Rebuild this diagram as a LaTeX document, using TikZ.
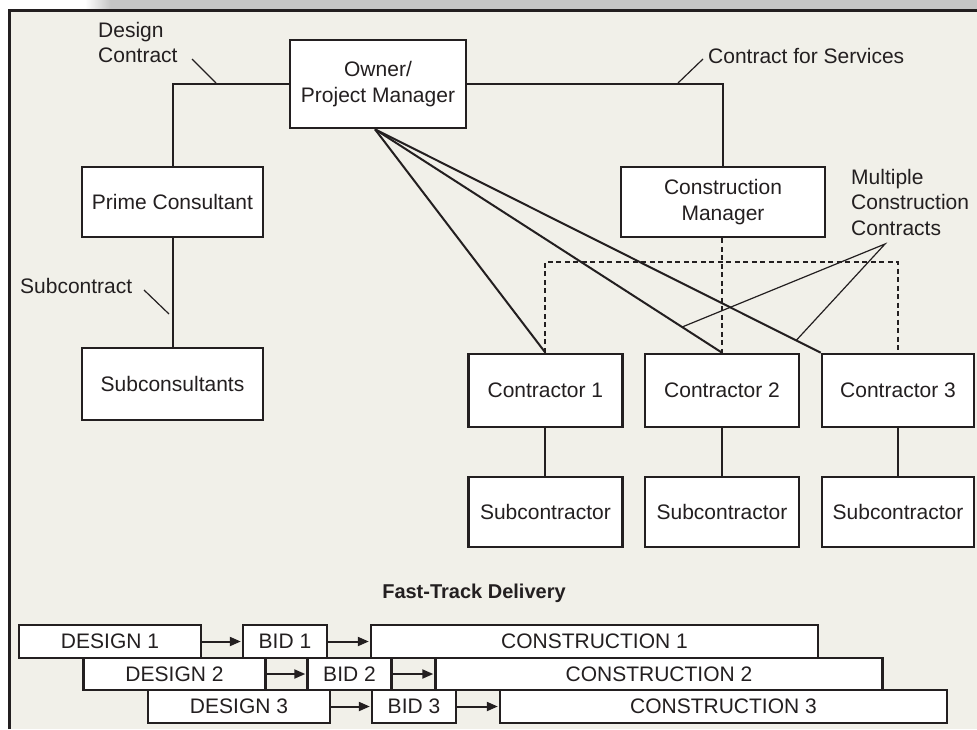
\documentclass[tikz,border=0pt]{standalone}
\usepackage{fontspec}
\setmainfont{Liberation Sans}
\usetikzlibrary{arrows.meta}
\definecolor{ink}{HTML}{231F20}
\definecolor{paper}{HTML}{F1F0E9}
\definecolor{band}{HTML}{C5C5C5}
\begin{document}
\begin{tikzpicture}[x=1pt,y=-1pt,
  txt/.style={inner sep=0pt, text=ink, font=\fontsize{21}{25.5}\selectfont},
  box/.style={txt, draw=ink, line width=2.6pt, fill=white, align=center},
  conn/.style={draw=ink, line width=2pt},
  lead/.style={draw=ink, line width=1.2pt},
  dashline/.style={draw=ink, line width=1.9pt, dash pattern=on 5pt off 3.5pt},
  ft/.style={txt, draw=ink, line width=2.4pt, fill=white, minimum height=32.5pt},
  ftarrow/.style={draw=ink, line width=2pt, -{Triangle[length=11pt,width=9pt]}, shorten >=1pt}]
\useasboundingbox (0,0) rectangle (977,729);
% background
\fill[white] (0,0) rectangle (977,729);
\fill[band] (110,0) rectangle (977,9);
\shade[left color=white, right color=band] (85,0) rectangle (110.5,9);
\fill[paper] (9,9) rectangle (977,729);
\draw[ink, line width=3pt] (9.5,729) -- (9.5,10.5) -- (977,10.5);

% organisation boxes
\node[box, minimum width=176pt, minimum height=88pt] (owner) at (378,84) {Owner/\\Project Manager};
\node[box, minimum width=181pt, minimum height=70pt] (prime) at (172.5,202) {Prime Consultant};
\node[box, minimum width=181pt, minimum height=72pt] (subcons) at (172.5,384) {Subconsultants};
\node[box, minimum width=204pt, minimum height=70pt] (cm) at (723,202) {Construction\\Manager};
\node[box, minimum width=154pt, minimum height=73pt] (c1) at (545.4,390.5) {Contractor 1};
\node[box, minimum width=154pt, minimum height=73pt] (c2) at (722,390.5) {Contractor 2};
\node[box, minimum width=152pt, minimum height=73pt] (c3) at (898,390.5) {Contractor 3};
\node[box, minimum width=154pt, minimum height=70pt] (s1) at (545.4,512) {Subcontractor};
\node[box, minimum width=154pt, minimum height=70pt] (s2) at (722,512) {Subcontractor};
\node[box, minimum width=152pt, minimum height=70pt] (s3) at (898,512) {Subcontractor};

% connectors
\draw[conn] (owner.west) -| (prime.north);
\draw[conn] (owner.east) -| (cm.north);
\draw[conn] (prime.south) -- (subcons.north);
\draw[conn] (c1.south) -- (s1.north);
\draw[conn] (c2.south) -- (s2.north);
\draw[conn] (c3.south) -- (s3.north);
\coordinate (ob) at ([xshift=-3pt]owner.south);
\draw[conn] (ob) -- (c1.north);
\draw[conn] (ob) -- (c2.north) coordinate[pos=0.885] (m2);
\draw[conn] (ob) -- (c3.north west) coordinate[pos=0.945] (m3);
\draw[dashline] (cm.south -| c2.north) -- (c2.north);
\draw[dashline] (c1.north) -- ++(0,-91) -| (c3.north);

% labels
\node[txt, anchor=north west, align=left] (dclab) at (98,22) {Design\\Contract};
\coordinate (dcA) at (192,59);
\coordinate (dcB) at (216,83);
\draw[lead] (dcA) -- (dcB);
\node[txt, anchor=base west] (cslab) at (708,63) {Contract for Services};
\coordinate (csA) at (703,59);
\coordinate (csB) at (678,83);
\draw[lead] (csA) -- (csB);
\node[txt, anchor=base west] (sclab) at (20,293) {Subcontract};
\coordinate (scA) at (144,290);
\coordinate (scB) at (169,314);
\draw[lead] (scA) -- (scB);
\node[txt, anchor=north west, align=left] (mclab) at (851,169) {Multiple\\Construction\\Contracts};
\coordinate (apex) at (885,244);
\draw[lead] (m2) -- (apex) -- (m3);

% fast-track
\node[txt, font=\bfseries\fontsize{20}{24}\selectfont] (title) at (474,593) {Fast-Track Delivery};
\node[ft, minimum width=182pt] (d1) at (110,641.5) {DESIGN 1};
\node[ft, minimum width=84pt] (b1) at (285,641.5) {BID 1};
\node[ft, minimum width=447pt] (k1) at (594.5,641.5) {CONSTRUCTION 1};
\node[ft, minimum width=182pt] (d2) at (174.5,674) {DESIGN 2};
\node[ft, minimum width=84pt] (b2) at (349.5,674) {BID 2};
\node[ft, minimum width=447pt] (k2) at (659,674) {CONSTRUCTION 2};
\node[ft, minimum width=182pt] (d3) at (239,706.5) {DESIGN 3};
\node[ft, minimum width=84pt] (b3) at (414,706.5) {BID 3};
\node[ft, minimum width=447pt] (k3) at (723.5,706.5) {CONSTRUCTION 3};
\draw[ftarrow] (d1.east) -- (b1.west);
\draw[ftarrow] (b1.east) -- (k1.west);
\draw[ftarrow] (d2.east) -- (b2.west);
\draw[ftarrow] (b2.east) -- (k2.west);
\draw[ftarrow] (d3.east) -- (b3.west);
\draw[ftarrow] (b3.east) -- (k3.west);
\end{tikzpicture}
\end{document}
